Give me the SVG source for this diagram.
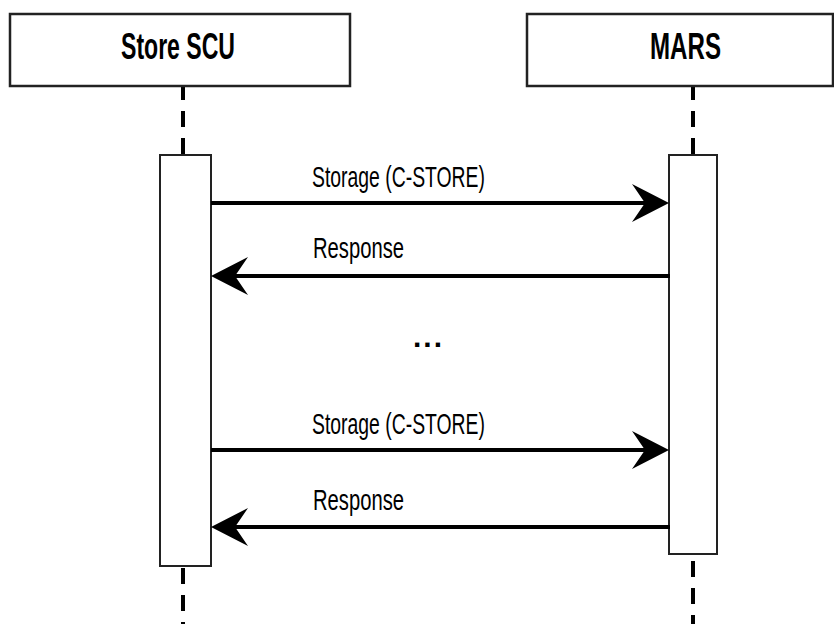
<svg xmlns="http://www.w3.org/2000/svg" width="834" height="624" viewBox="0 0 834 624">
<style>
.hdr{fill:#fff;stroke:#222;stroke-width:2.5}
.act{fill:#fff;stroke:#222;stroke-width:2}
.life{stroke:#000;stroke-width:4;fill:none;stroke-dasharray:16 11}
.msg{stroke:#000;stroke-width:4;fill:none;marker-end:url(#ah)}
.title{font-family:"Liberation Sans",Arial,sans-serif;font-weight:bold;font-size:36px;fill:#000}
.lbl{font-family:"Liberation Sans",Arial,sans-serif;font-size:30px;fill:#000}
.dots{font-family:"Liberation Sans",Arial,sans-serif;font-weight:bold;font-size:30px;fill:#000}
</style>
<defs>
<marker id="ah" markerUnits="userSpaceOnUse" viewBox="-40 -21 42 42" markerWidth="42" markerHeight="42" refX="-24" refY="0" orient="auto">
<path d="M0,0 L-37,-19 L-24,0 L-37,19 Z" fill="#000"/>
</marker>
</defs>
<g id="lifelines">
<line class="life" x1="183" y1="86" x2="183" y2="155" stroke-dashoffset="2"/>
<line class="life" x1="693" y1="86" x2="693" y2="155" stroke-dashoffset="2"/>
<line class="life" x1="183" y1="568" x2="183" y2="624"/>
<line class="life" x1="693" y1="561" x2="693" y2="624"/>
</g>
<g id="store-scu">
<rect class="hdr" x="10" y="14" width="340" height="72"/>
<text class="title" x="121" y="59" textLength="114" lengthAdjust="spacingAndGlyphs">Store SCU</text>
<rect class="act" x="160" y="155" width="51" height="411"/>
</g>
<g id="mars">
<rect class="hdr" x="527" y="14" width="306" height="72"/>
<text class="title" x="650" y="59" textLength="71" lengthAdjust="spacingAndGlyphs">MARS</text>
<rect class="act" x="669" y="155" width="48" height="399"/>
</g>
<g id="connectors">
<line class="msg" x1="211" y1="203" x2="645" y2="203"/>
<line class="msg" x1="670" y1="276" x2="235" y2="276"/>
<line class="msg" x1="211" y1="450" x2="645" y2="450"/>
<line class="msg" x1="670" y1="527" x2="235" y2="527"/>
</g>
<g id="labels">
<text class="lbl" x="312" y="187" textLength="173" lengthAdjust="spacingAndGlyphs">Storage (C-STORE)</text>
<text class="lbl" x="313" y="258" textLength="91" lengthAdjust="spacingAndGlyphs">Response</text>
<text class="dots" x="413" y="347" textLength="29" lengthAdjust="spacing">...</text>
<text class="lbl" x="312" y="434" textLength="173" lengthAdjust="spacingAndGlyphs">Storage (C-STORE)</text>
<text class="lbl" x="313" y="510" textLength="91" lengthAdjust="spacingAndGlyphs">Response</text>
</g>
</svg>
